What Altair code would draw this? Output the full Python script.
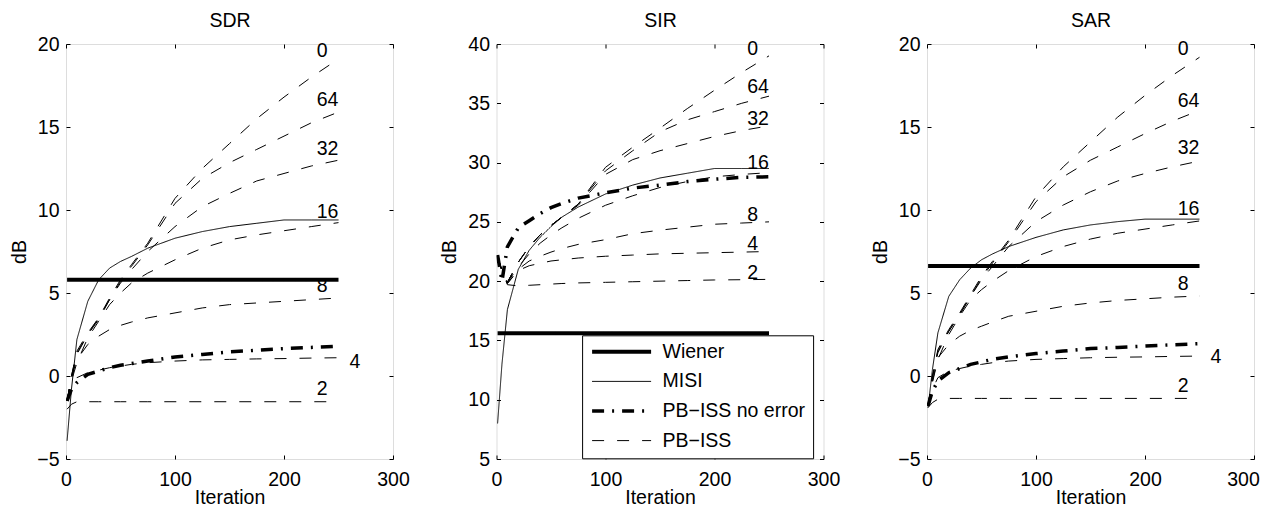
import altair as alt
import pandas as pd

FONT = "Liberation Sans"
FS = 19.5

ITER = [1, 5, 10, 20, 30, 40, 50, 60, 75, 100, 125, 150, 175, 200, 225, 250]
WIENER_X = [1, 250]
SERIES = ["Wiener", "MISI", "PB\u2212ISS no error", "PB\u2212ISS"]
PB_LEVELS = ["0", "64", "32", "16", "8", "4", "2"]
X_TICKS = [0, 100, 200, 300]

# ---------------- SDR ----------------
sdr_wiener = 5.8
sdr_misi = [-3.9, -0.8, 2.2, 4.5, 5.8, 6.5, 6.9, 7.2, 7.7, 8.3, 8.7, 9.0, 9.2, 9.4, 9.4, 9.4]
sdr_noerr = [-1.5, -0.8, -0.4, 0.1, 0.3, 0.5, 0.65, 0.75, 0.9, 1.15, 1.3, 1.45, 1.55, 1.65, 1.72, 1.8]
sdr_pb0 = [-1.5, 0.0, 1.5, 2.6, 3.5, 4.7, 5.8, 6.7, 8.0, 10.7, 12.5, 14.0, 15.5, 16.8, 18.0, 19.1]
sdr_pb64 = [-1.5, 0.0, 1.4, 2.5, 3.4, 4.6, 5.7, 6.6, 7.9, 10.4, 11.9, 12.85, 13.65, 14.45, 15.25, 15.9]
sdr_pb32 = [-1.5, -0.1, 1.3, 2.5, 3.5, 4.6, 5.6, 6.4, 7.5, 9.0, 10.2, 11.0, 11.75, 12.2, 12.65, 13.0]
sdr_pb16 = [-1.5, -0.3, 0.8, 2.3, 3.3, 4.3, 5.0, 5.6, 6.2, 7.0, 7.7, 8.2, 8.5, 8.75, 9.0, 9.24]
sdr_pb8 = [-1.5, -0.1, 1.0, 1.9, 2.4, 2.8, 3.05, 3.25, 3.5, 3.8, 4.1, 4.3, 4.4, 4.5, 4.6, 4.7]
sdr_pb4 = [-1.5, -0.7, -0.1, 0.2, 0.35, 0.5, 0.6, 0.7, 0.8, 0.9, 0.97, 1.0, 1.03, 1.05, 1.08, 1.1]
sdr_pb2 = [-2.0, -1.7, -1.55, -1.55, -1.55, -1.55, -1.55, -1.55, -1.55, -1.55, -1.55, -1.55, -1.55, -1.55, -1.55, -1.55]
sdr_lab_x = [230, 230, 230, 230, 230, 260, 230]
sdr_lab_y = [19.6, 16.6, 13.65, 9.9, 5.4, 0.86, -0.77]

# ---------------- SIR ----------------
sir_wiener = 15.6
sir_misi = [8.0, 13.0, 17.6, 21.0, 22.6, 23.7, 24.6, 25.4, 26.25, 27.35, 28.1, 28.7, 29.1, 29.5, 29.5, 29.5]
sir_noerr = [22.2, 20.0, 22.9, 24.5, 25.1, 25.7, 26.2, 26.55, 27.0, 27.45, 27.85, 28.1, 28.4, 28.6, 28.75, 28.8]
sir_pb0 = [22.0, 20.9, 19.9, 21.6, 22.9, 23.9, 24.7, 25.4, 26.5, 29.6, 31.3, 32.9, 34.55, 36.1, 37.6, 39.0]
sir_pb64 = [22.0, 20.9, 19.9, 21.6, 22.9, 23.9, 24.7, 25.4, 26.5, 29.3, 31.0, 32.6, 33.6, 34.3, 35.0, 35.6]
sir_pb32 = [22.0, 20.9, 19.9, 21.6, 22.9, 23.9, 24.7, 25.4, 26.4, 29.0, 30.25, 31.0, 31.6, 32.2, 32.7, 33.1]
sir_pb16 = [22.0, 20.9, 19.9, 21.2, 22.3, 23.2, 23.9, 24.5, 25.3, 26.4, 27.2, 27.9, 28.4, 28.8, 29.0, 29.15]
sir_pb8 = [22.0, 20.9, 19.8, 21.0, 21.7, 22.1, 22.45, 22.75, 23.1, 23.5, 24.0, 24.3, 24.55, 24.8, 24.9, 25.0]
sir_pb4 = [22.0, 20.9, 19.8, 20.9, 21.3, 21.5, 21.7, 21.8, 21.95, 22.1, 22.2, 22.3, 22.35, 22.4, 22.45, 22.5]
sir_pb2 = [22.0, 20.9, 19.7, 19.6, 19.65, 19.7, 19.75, 19.8, 19.85, 19.9, 19.95, 20.0, 20.05, 20.1, 20.12, 20.15]
sir_lab_x = [230, 230, 230, 230, 230, 230, 230]
sir_lab_y = [39.55, 36.4, 33.65, 30.0, 25.6, 23.1, 20.7]

# ---------------- SAR ----------------
sar_wiener = 6.63
sar_misi = [-1.9, 0.4, 2.6, 4.8, 5.8, 6.5, 7.0, 7.35, 7.8, 8.35, 8.8, 9.1, 9.3, 9.45, 9.45, 9.45]
sar_noerr = [-1.8, -0.9, -0.3, 0.2, 0.45, 0.7, 0.85, 1.0, 1.15, 1.35, 1.5, 1.65, 1.72, 1.8, 1.88, 1.95]
sar_pb0 = [-1.8, 0.0, 1.6, 2.8, 3.8, 4.9, 6.0, 6.9, 8.2, 10.8, 12.6, 14.1, 15.6, 16.9, 18.1, 19.2]
sar_pb64 = [-1.8, 0.0, 1.5, 2.7, 3.7, 4.8, 5.9, 6.8, 8.1, 10.5, 12.0, 13.0, 13.8, 14.6, 15.35, 16.0]
sar_pb32 = [-1.8, -0.1, 1.4, 2.7, 3.7, 4.8, 5.8, 6.6, 7.8, 9.3, 10.3, 11.1, 11.75, 12.2, 12.6, 12.95]
sar_pb16 = [-1.8, -0.4, 1.0, 2.5, 3.6, 4.6, 5.2, 5.7, 6.35, 7.2, 7.8, 8.25, 8.6, 8.85, 9.1, 9.34]
sar_pb8 = [-1.8, -0.3, 1.1, 1.9, 2.4, 2.75, 3.0, 3.25, 3.6, 3.9, 4.2, 4.4, 4.55, 4.65, 4.75, 4.82]
sar_pb4 = [-1.8, -0.8, -0.1, 0.3, 0.45, 0.6, 0.7, 0.8, 0.9, 1.0, 1.05, 1.1, 1.13, 1.15, 1.18, 1.2]
sar_pb2 = [-1.9, -1.6, -1.4, -1.35, -1.35, -1.35, -1.35, -1.35, -1.35, -1.35, -1.35, -1.35, -1.35, -1.35, -1.35, -1.35]
sar_lab_x = [230, 230, 230, 230, 230, 260, 230]
sar_lab_y = [19.68, 16.57, 13.75, 10.04, 5.52, 1.14, -0.6]

# styles (series index 0..3 -> threshold buckets)
THRESH = [0.5, 1.5, 2.5]
DASHES = [[1, 0], [1, 0], [12, 8, 2, 8], [12, 13]]
WIDTHS = [4, 1, 3.5, 1]


def build_df(wiener, misi, noerr, pbs):
    rows = []
    for x in WIENER_X:
        rows.append({"it": x, "db": wiener, "code": 0, "curve": "Wiener"})
    for x, v in zip(ITER, misi):
        rows.append({"it": x, "db": v, "code": 1, "curve": "MISI"})
    for x, v in zip(ITER, noerr):
        rows.append({"it": x, "db": v, "code": 2, "curve": "noerr"})
    for lev, vals in zip(PB_LEVELS, pbs):
        for x, v in zip(ITER, vals):
            rows.append({"it": x, "db": v, "code": 3, "curve": "pb" + lev})
    return pd.DataFrame(rows)


LABEL_EXPR = "[" + ",".join("'" + s + "'" for s in SERIES) + "][datum.index]"


def panel(title, ydom, yticks, df, lab_x, lab_y, show_legend, last_label_shift=0):
    xs = alt.Scale(domain=[0, 300], nice=False, zero=False)
    ys = alt.Scale(domain=ydom, nice=False, zero=False)
    extra = {}
    if last_label_shift:
        extra["labelOffset"] = {"condition": {"test": "datum.value === 300", "value": last_label_shift},
                                "value": 0}
    xb = alt.Axis(orient="bottom", values=X_TICKS, title="Iteration", offset=-4, tickSize=4,
                  domain=False, grid=False, labelPadding=11, labelFlush=False, labelOverlap=False,
                  labelFontSize=FS, titleFontSize=FS, titleFontWeight="normal", titlePadding=0.5,
                  minExtent=33, maxExtent=33, tickColor="black", labelColor="black",
                  titleColor="black", labelFont=FONT, titleFont=FONT, **extra)
    yl = alt.Axis(orient="left", values=yticks, title="dB", offset=-4, tickSize=4,
                  domain=False, grid=False, labelPadding=7, labelFlush=False, labelOverlap=False,
                  labelFontSize=FS, titleFontSize=FS, titleFontWeight="normal", titlePadding=7,
                  minExtent=34, maxExtent=34, tickColor="black", labelColor="black",
                  titleColor="black", labelFont=FONT, titleFont=FONT)
    xt = alt.Axis(orient="top", values=X_TICKS, title=title, labels=False, offset=-4, tickSize=4,
                  domain=False, grid=False, tickColor="black", minExtent=0, maxExtent=0,
                  titleFontSize=FS, titleFont=FONT, titleFontWeight="normal", titleColor="black",
                  titlePadding=21.3, titleBaseline="alphabetic")
    yr = alt.Axis(orient="right", values=yticks, title=None, labels=False, offset=-4, tickSize=4,
                  domain=False, grid=False, tickColor="black", minExtent=0, maxExtent=0)
    if show_legend:
        legend = alt.Legend(
            title=None, orient="none", legendX=85.6, legendY=291.3, direction="vertical",
            symbolType="stroke", symbolSize=3481, symbolStrokeColor="black",
            clipHeight=17, rowPadding=9.6, padding=8, labelOffset=9.4,
            labelFontSize=FS, labelFont=FONT, labelColor="black", labelLimit=400,
            labelExpr=LABEL_EXPR,
            strokeColor="black", fillColor="white", cornerRadius=0,
        )
    else:
        legend = None
    lines = alt.Chart(df).mark_line(color="black", clip=True).encode(
        x=alt.X("it:Q", scale=xs, axis=xb),
        y=alt.Y("db:Q", scale=ys, axis=yl),
        strokeDash=alt.StrokeDash("code:Q", scale=alt.Scale(type="threshold", domain=THRESH, range=DASHES),
                                  legend=legend),
        strokeWidth=alt.StrokeWidth("code:Q", scale=alt.Scale(type="threshold", domain=THRESH, range=WIDTHS),
                                    legend=legend),
        detail="curve:N",
    )
    labs = pd.DataFrame({"it": lab_x, "db": lab_y, "txt": PB_LEVELS})
    text = alt.Chart(labs).mark_text(align="left", baseline="middle", fontSize=FS, font=FONT,
                                     color="black").encode(
        x=alt.X("it:Q", scale=xs, axis=xt),
        y=alt.Y("db:Q", scale=ys, axis=yr),
        text="txt:N",
    )
    return alt.layer(lines, text).resolve_axis(x="independent", y="independent").properties(
        width=327, height=415,
    )


df_sdr = build_df(sdr_wiener, sdr_misi, sdr_noerr,
                  [sdr_pb0, sdr_pb64, sdr_pb32, sdr_pb16, sdr_pb8, sdr_pb4, sdr_pb2])
df_sir = build_df(sir_wiener, sir_misi, sir_noerr,
                  [sir_pb0, sir_pb64, sir_pb32, sir_pb16, sir_pb8, sir_pb4, sir_pb2])
df_sar = build_df(sar_wiener, sar_misi, sar_noerr,
                  [sar_pb0, sar_pb64, sar_pb32, sar_pb16, sar_pb8, sar_pb4, sar_pb2])

p1 = panel("SDR", [-5, 20], [-5, 0, 5, 10, 15, 20], df_sdr, sdr_lab_x, sdr_lab_y, False)
p2 = panel("SIR", [5, 40], [5, 10, 15, 20, 25, 30, 35, 40], df_sir, sir_lab_x, sir_lab_y, True)
p3 = panel("SAR", [-5, 20], [-5, 0, 5, 10, 15, 20], df_sar, sar_lab_x, sar_lab_y, False,
           last_label_shift=-11)

chart = alt.hconcat(p1, p2, p3, spacing=28.5).resolve_scale(
    strokeDash="independent", strokeWidth="independent").resolve_legend(
    strokeDash="independent", strokeWidth="independent").properties(
    padding={"left": 0, "top": 2, "right": 0, "bottom": 0}
).configure_view(stroke="black", strokeWidth=1).configure(font=FONT, background="white")

chart.save("out.html", embed_options={"renderer": "svg", "actions": False})
